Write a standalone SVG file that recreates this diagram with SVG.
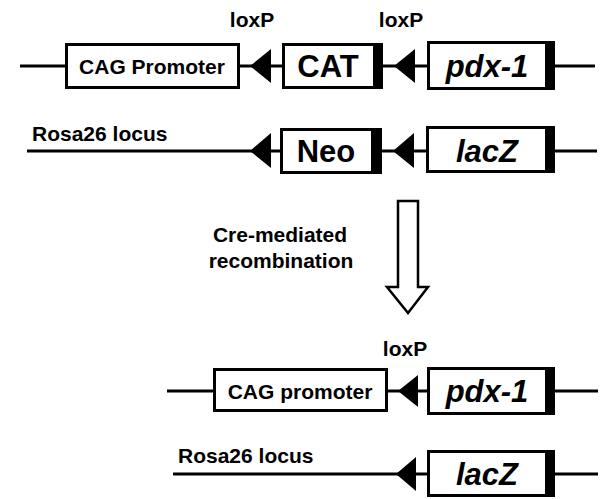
<svg xmlns="http://www.w3.org/2000/svg" width="600" height="499" viewBox="0 0 600 499">
<style>
.box{fill:#fff;stroke:#000;stroke-width:3}
.bar{fill:#000}
.ln{stroke:#000;stroke-width:3;fill:none}
.tri{fill:#000}
text{font-family:"Liberation Sans",Arial,sans-serif;font-weight:bold;fill:#000}
.lab{font-size:21px}
.big{font-size:31px;text-anchor:middle}
.it{font-style:italic}
.mid{text-anchor:middle}
</style>
<rect width="600" height="499" fill="#fff"/>
<g id="connectors">
<line class="ln" x1="20" y1="66" x2="66" y2="66"/>
<line class="ln" x1="239" y1="66" x2="283" y2="66"/>
<line class="ln" x1="382" y1="66" x2="428" y2="66"/>
<line class="ln" x1="554" y1="66" x2="595" y2="66"/>
<line class="ln" x1="27" y1="151" x2="281" y2="151"/>
<line class="ln" x1="381" y1="151" x2="427" y2="151"/>
<line class="ln" x1="554" y1="151" x2="597" y2="151"/>
<line class="ln" x1="167" y1="391" x2="214" y2="391"/>
<line class="ln" x1="387" y1="391" x2="428" y2="391"/>
<line class="ln" x1="554" y1="391" x2="598" y2="391"/>
<line class="ln" x1="173" y1="474" x2="428" y2="474"/>
<line class="ln" x1="554" y1="474" x2="598" y2="474"/>
<polygon id="arrow" points="398,201 418,201 418,287 428,287 408,313 387,287 398,287" fill="#fff" stroke="#000" stroke-width="2.5" stroke-linejoin="miter"/>
</g>
<g id="loxP1"><polygon class="tri" points="250,66 271,49 271,83"/><text class="lab mid" x="252" y="27">loxP</text></g>
<g id="loxP2"><polygon class="tri" points="394,66 415,49 415,83"/><text class="lab mid" x="401" y="27">loxP</text></g>
<g id="cag1"><rect class="box" x="66.5" y="44.5" width="172" height="43"/><text class="lab mid" x="152" y="74">CAG Promoter</text></g>
<g id="cat"><rect class="box" x="283.5" y="44.5" width="97" height="43"/><rect class="bar" x="373" y="43" width="10" height="46"/><text class="big" x="328" y="77">CAT</text></g>
<g id="pdx1"><rect class="box" x="428.5" y="42.5" width="124" height="46"/><rect class="bar" x="545" y="41" width="10" height="49"/><text class="big it" x="487" y="77">pdx-1</text></g>
<g id="rosa1"><text class="lab" x="32" y="141">Rosa26 locus</text></g>
<g id="loxP3"><polygon class="tri" points="250,151 271,133 271,168"/></g>
<g id="loxP4"><polygon class="tri" points="393,151 414,133 414,168"/></g>
<g id="neo"><rect class="box" x="281.5" y="129.5" width="98" height="43"/><rect class="bar" x="371" y="128" width="11" height="46"/><text class="big" x="326" y="162">Neo</text></g>
<g id="lacz1"><rect class="box" x="427.5" y="127.5" width="125" height="44"/><rect class="bar" x="545" y="126" width="10" height="47"/><text class="big it" x="487" y="162">lacZ</text></g>
<g id="label"><text class="lab mid" x="280" y="242">Cre-mediated</text><text class="lab mid" x="281" y="268">recombination</text></g>
<g id="cag2"><rect class="box" x="214.5" y="369.5" width="172" height="41"/><text class="lab mid" x="300" y="399">CAG promoter</text></g>
<g id="loxP5"><polygon class="tri" points="398,391 418,375 418,407"/><text class="lab mid" x="405" y="356">loxP</text></g>
<g id="pdx2"><rect class="box" x="428.5" y="368.5" width="124" height="45"/><rect class="bar" x="545" y="367" width="10" height="48"/><text class="big it" x="487" y="402">pdx-1</text></g>
<g id="rosa2"><text class="lab" x="178" y="463">Rosa26 locus</text></g>
<g id="loxP6"><polygon class="tri" points="396,474 416,457 416,491"/></g>
<g id="lacz2"><rect class="box" x="428.5" y="451.5" width="124" height="44"/><rect class="bar" x="545" y="450" width="10" height="47"/><text class="big it" x="487" y="485">lacZ</text></g>
</svg>
